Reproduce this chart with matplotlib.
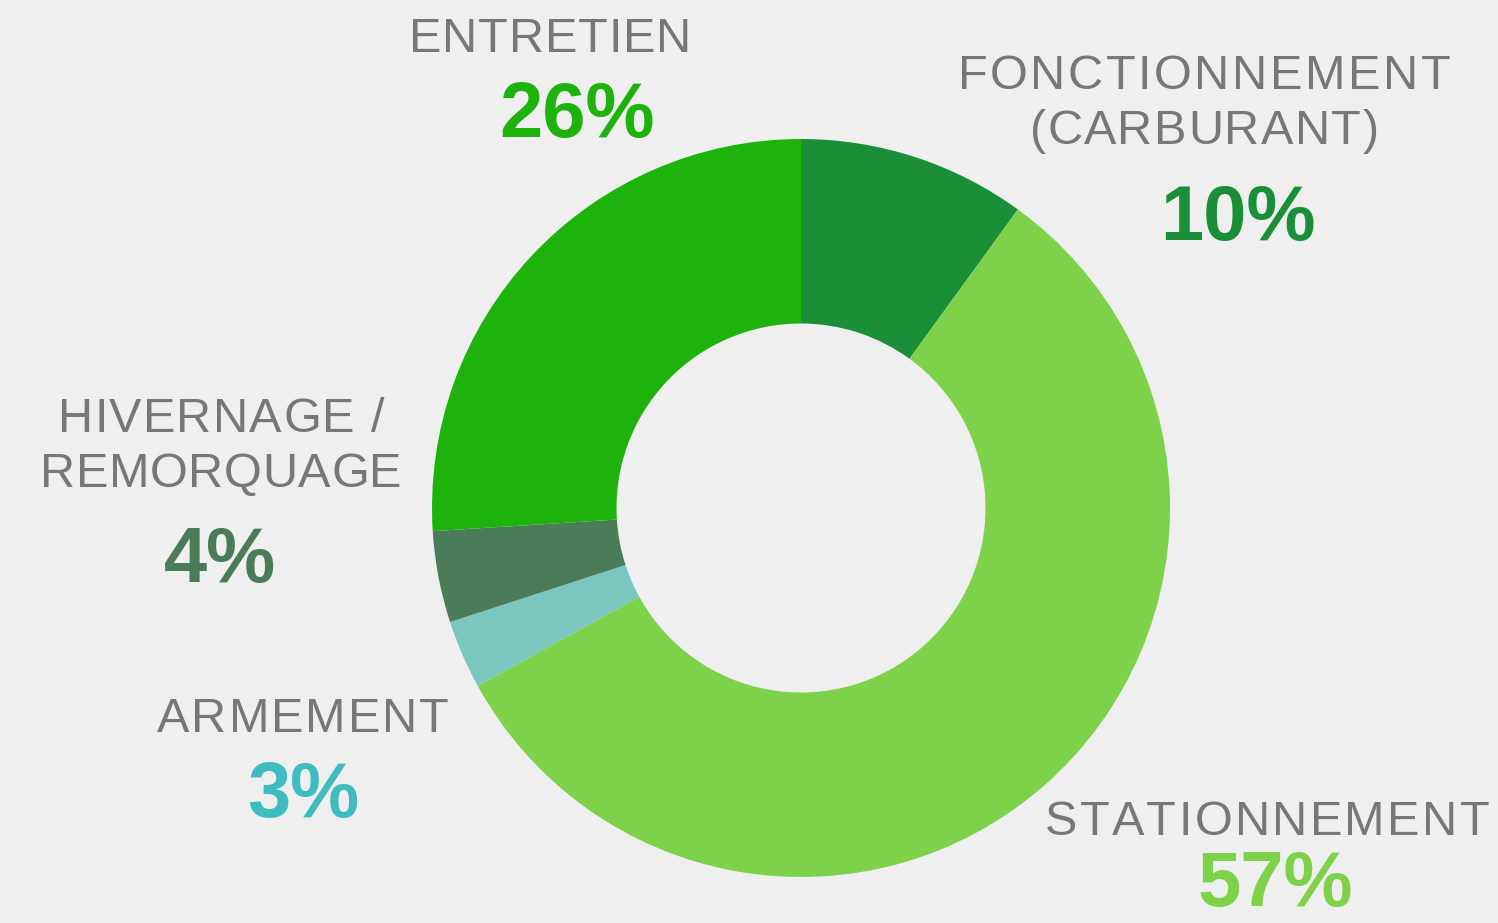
import matplotlib
matplotlib.use("Agg")
import matplotlib.pyplot as plt
from matplotlib.font_manager import FontProperties, findfont, get_font

# parts du budget annuel du bateau
categories = [["FONCTIONNEMENT", "(CARBURANT)"], ["STATIONNEMENT"], ["ARMEMENT"],
              ["HIVERNAGE /", "REMORQUAGE"], ["ENTRETIEN"]]
values = [10, 57, 3, 4, 26]
slice_colors = ["#1a8f37", "#7ed249", "#7bc7c0", "#4a7c59", "#1eb20c"]
pct_colors = ["#1a8f37", "#7ed249", "#3fbcbf", "#4a7c59", "#1eb20c"]

W, H = 1498, 923
fig = plt.figure(figsize=(W / 100, H / 100), dpi=100)
fig.patch.set_facecolor("#efefef")
ax = fig.add_axes([0, 0, 1, 1])
ax.set_facecolor("#efefef")

cx, cy, r = 801, H - 508, 369
ax.pie(values, colors=slice_colors, startangle=90, counterclock=False,
       center=(cx, cy), radius=r, frame=True,
       wedgeprops=dict(width=r * 0.5, linewidth=0))

ax.set_xlim(0, W)
ax.set_ylim(0, H)
ax.set_aspect("equal")
ax.axis("off")

LABEL_SIZE = 35
font = get_font(findfont(FontProperties(family="Liberation Sans")))
font.set_size(LABEL_SIZE, 100)


def spaced_text(xc, yb, s, width):
    # texte avec interlettrage: chaque lettre placee a la main
    adv = []
    for c in s:
        g = font.load_char(ord(c))
        adv.append(g.linearHoriAdvance / 65536.0)
    base = sum(adv) - 0.1 * LABEL_SIZE * 100 / 72
    track = (width - base) / max(len(s) - 1, 1)
    total = sum(adv) + track * (len(s) - 1)
    x = xc - total / 2
    for c, a in zip(s, adv):
        if c != " ":
            ax.text(x + a / 2, yb, c, ha="center", va="baseline",
                    fontsize=LABEL_SIZE, color="#777777", family="Liberation Sans")
        x += a + track


# (x centre, lignes de base du titre, largeur de chaque ligne, x et base du %)
label_x = [1204, 1267, 303, 221, 550]
label_base = [[89, 144], [835], [732], [432, 487], [52]]
label_width = [[488, 344], [440], [287], [322, 357], [278]]
pct_pos = [(1238, 240), (1275, 906), (303, 817), (220, 582), (577, 137)]

for lines, v, col, lx, lbs, lws, (px, py) in zip(categories, values, pct_colors, label_x,
                                                   label_base, label_width, pct_pos):
    for s, yb, w in zip(lines, lbs, lws):
        spaced_text(lx, H - yb, s, w)
    ax.text(px, H - py, f"{v}%", ha="center", va="baseline",
            fontsize=56, fontweight="bold", color=col, family="Liberation Sans")

fig.savefig("out.png", dpi=100, facecolor=fig.get_facecolor())
